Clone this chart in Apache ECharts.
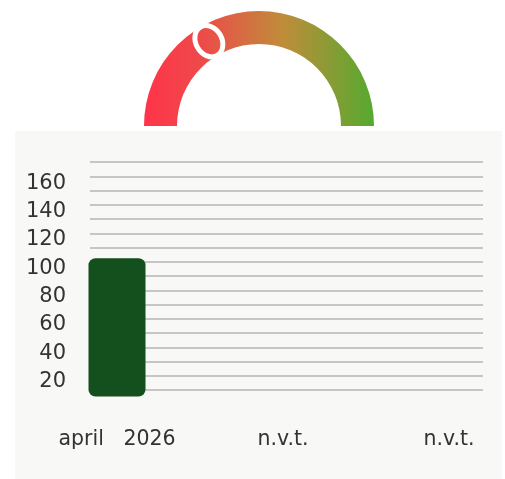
<!DOCTYPE html>
<html>
<head>
<meta charset="utf-8">
<script src="https://cdn.jsdelivr.net/npm/echarts@6/dist/echarts.min.js"></script>
<style>html,body{margin:0;padding:0;background:#fff;}#c{width:505px;height:479px;}</style>
</head>
<body>
<div id="c"></div>
<script>
var categories = ['april   2026', 'n.v.t.', 'n.v.t.'];
var barBase = [9.5, null, null];
var barValues = [97.5, null, null];
var yTickLabels = [20, 40, 60, 80, 100, 120, 140, 160];
var gaugeValue = [33];
var gridLineCount = 16;

var chart = echarts.init(document.getElementById('c'), null, {renderer: 'canvas'});
var font = 'DejaVu Sans';
var option = {
  animation: false,
  graphic: [{
    type: 'rect', z: -10, silent: true,
    shape: {x: 15, y: 131, width: 487, height: 348},
    style: {fill: '#f8f8f6'}
  }],
  grid: [
    {left: 34, width: 498, top: 169, bottom: 69, containLabel: false, outerBoundsMode: 'none'},
    {left: 90, width: 393, top: 162, bottom: 89, containLabel: false, outerBoundsMode: 'none'},
    {left: 91, width: 393, top: 169, bottom: 69, containLabel: false, outerBoundsMode: 'none'}
  ],
  xAxis: [
    {type: 'category', gridIndex: 0, data: categories,
     axisLine: {show: false}, axisTick: {show: false}, splitLine: {show: false},
     axisLabel: {color: '#333', fontFamily: font, fontSize: 20.5, margin: 19, interval: 0}},
    {type: 'value', gridIndex: 1, show: false, min: 0, max: 1},
    {type: 'value', gridIndex: 2, show: false, min: 0, max: 1}
  ],
  yAxis: [
    {type: 'value', gridIndex: 0, min: 0, max: 170, show: false},
    {type: 'value', gridIndex: 1, min: 0, max: gridLineCount, interval: 1,
     axisLine: {show: false}, axisTick: {show: false}, axisLabel: {show: false},
     splitLine: {show: true, lineStyle: {color: '#c6c6c6', width: 2}}},
    {type: 'value', gridIndex: 2, min: 0, max: 170, interval: 10,
     axisLine: {show: false}, axisTick: {show: false}, splitLine: {show: false},
     axisLabel: {color: '#333', fontFamily: font, fontSize: 21, margin: 25,
       showMinLabel: false, showMaxLabel: false,
       formatter: function (v) { return yTickLabels.indexOf(v) >= 0 ? String(v) : ''; }}}
  ],
  series: [
    {type: 'bar', xAxisIndex: 0, yAxisIndex: 0, stack: 'b', data: barBase,
     barWidth: 57, itemStyle: {color: 'transparent'}, silent: true},
    {type: 'bar', xAxisIndex: 0, yAxisIndex: 0, stack: 'b', data: barValues,
     barWidth: 57, itemStyle: {color: '#144f1e', borderRadius: 7}},
    {type: 'gauge', center: [259, 126], radius: 115, startAngle: 180, endAngle: 0,
     min: 0, max: 100,
     axisLine: {show: true, roundCap: false, lineStyle: {width: 33, color: [[1,
       new echarts.graphic.LinearGradient(0, 0, 1, 0, [
         {offset: 0, color: '#ff3449'},
         {offset: 0.25, color: '#ee4a4a'},
         {offset: 0.6, color: '#c08c3a'},
         {offset: 1, color: '#55aa30'}
       ])]]}},
     axisTick: {show: false}, splitLine: {show: false}, axisLabel: {show: false},
     progress: {show: false}, anchor: {show: false}, title: {show: false}, detail: {show: false},
     pointer: {show: true,
       icon: 'path://M50,0 A50,50 0 1,1 50,100 A50,50 0 1,1 50,0 Z',
       keepAspect: false, width: 26, length: 33,
       offsetCenter: [0, -82],
       itemStyle: {color: 'rgba(0,0,0,0)', borderColor: '#ffffff', borderWidth: 5}},
     data: [{value: gaugeValue[0]}]}
  ]
};
chart.setOption(option);
</script>
</body>
</html>
